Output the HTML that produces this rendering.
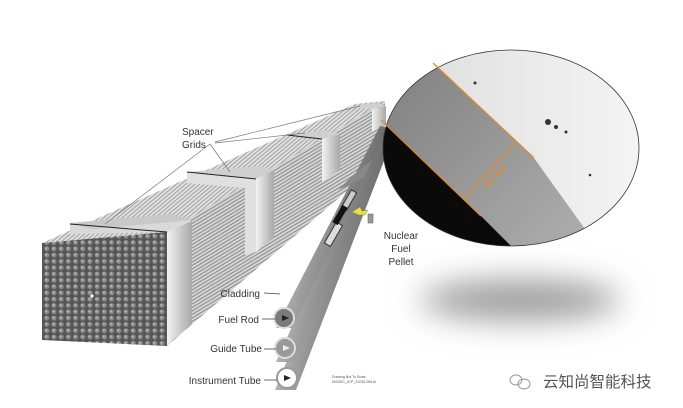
<!DOCTYPE html>
<html><head><meta charset="utf-8"><style>
html,body{margin:0;padding:0;background:#fff;}
svg{display:block;}
text{font-family:"Liberation Sans",Arial,sans-serif;}
</style></head><body>
<svg width="683" height="408" viewBox="0 0 683 408" xmlns="http://www.w3.org/2000/svg">
<defs>
<pattern id="dots" width="7.2" height="6.3" patternUnits="userSpaceOnUse">
<rect width="7.2" height="6.3" fill="#555"/>
<circle cx="3.6" cy="3.1" r="2.5" fill="#8a8a8a"/>
<circle cx="3" cy="2.6" r="1.1" fill="#b5b5b5"/>
</pattern>
<pattern id="stripes" width="6" height="3" patternUnits="userSpaceOnUse" patternTransform="rotate(-31)">
<rect width="6" height="3" fill="#d4d4d4"/>
<rect y="2" width="6" height="1" fill="#8a8a8a"/>
</pattern>
<pattern id="stripes2" width="6" height="3" patternUnits="userSpaceOnUse" patternTransform="rotate(-40)">
<rect width="6" height="3" fill="#e0e0e0"/>
<rect y="2" width="6" height="1" fill="#a0a0a0"/>
</pattern>
<linearGradient id="grid" x1="0" x2="1"><stop offset="0" stop-color="#f2f2f2"/><stop offset="1" stop-color="#a8a8a8"/></linearGradient>
<linearGradient id="tube" x1="0" y1="0" x2="1" y2="0.4"><stop offset="0" stop-color="#e8e8e8"/><stop offset="0.5" stop-color="#9a9a9a"/><stop offset="1" stop-color="#5a5a5a"/></linearGradient>
<filter id="blur" x="-50%" y="-200%" width="200%" height="500%"><feGaussianBlur stdDeviation="16"/></filter>
<clipPath id="circ"><ellipse cx="511" cy="148" rx="128" ry="98"/></clipPath>
<linearGradient id="light" x1="0" y1="0" x2="1" y2="0"><stop offset="0" stop-color="#dcdcdc"/><stop offset="1" stop-color="#f4f4f4"/></linearGradient>
<linearGradient id="band" x1="0" y1="0" x2="1" y2="1"><stop offset="0" stop-color="#7a7a7a"/><stop offset="1" stop-color="#b0b0b0"/></linearGradient>
</defs>

<polygon points="42,243 167,232 385,101 355,104" fill="url(#stripes2)"/>
<polygon points="167,232 385,101 385,158 167,346" fill="url(#stripes)"/>
<polygon points="42,243 167,232 167,346 42,340" fill="url(#dots)"/>
<circle cx="92" cy="296" r="1.6" fill="#fff"/>

<polygon points="70,223 168,216 192,221 190,232 167,232 70,234" fill="#d9d9d9"/>
<polygon points="70,223 170,214 192,220 92,229" fill="#c8c8c8"/>
<polygon points="167,232 192,221 192,324 167,345" fill="url(#grid)"/>
<line x1="70" y1="224" x2="167" y2="232" stroke="#222" stroke-width="1"/>
<polygon points="187,172 258,166 274,170 256,178" fill="#cfcfcf"/>
<polygon points="187,172 256,179 256,252 245,255 245,188 187,183" fill="#e0e0e0"/>
<polygon points="256,179 274,170 274,238 256,252" fill="url(#grid)"/>
<line x1="187" y1="172" x2="256" y2="179" stroke="#222"/>
<polygon points="287,135 326,130 340,134 322,139" fill="#cfcfcf"/>
<polygon points="322,139 340,134 340,170 322,182" fill="url(#grid)"/>
<line x1="287" y1="135" x2="322" y2="139" stroke="#222"/>
<polygon points="346,107 376,103 386,106 372,109" fill="#cfcfcf"/>
<polygon points="372,109 386,106 386,125 372,132" fill="url(#grid)"/>

<g stroke="#777" stroke-width="0.7" fill="none">
<line x1="210" y1="144" x2="230" y2="172"/>
<line x1="210" y1="144" x2="105" y2="224"/>
<line x1="215" y1="143" x2="305" y2="133"/>
<line x1="215" y1="142" x2="360" y2="106"/>
</g>
<text x="182" y="135" font-size="10" fill="#333">Spacer</text>
<text x="182" y="148" font-size="10" fill="#333">Grids</text>

<polygon points="275,390 296,390 392,140 380,135" fill="url(#tube)"/>
<polygon points="276,362 294,362 392,132 382,128" fill="url(#tube)"/>
<polygon points="276,328 292,328 388,128 380,126" fill="url(#tube)"/>
<polygon points="338,190 364,178 372,160 352,176" fill="#888"/>
<rect x="330" y="222" width="7" height="24" fill="#ddd" stroke="#333" transform="rotate(30 333 234)"/>
<rect x="346" y="190" width="6" height="20" fill="#ccc" stroke="#333" transform="rotate(30 349 200)"/>
<rect x="337" y="205" width="6" height="20" fill="#111" transform="rotate(30 340 215)"/>
<path d="M352 212 l8 -5 l2 4 l6 -1 l-3 5 l-6 0 z" fill="#e8e040" stroke="#886" stroke-width="0.5"/>
<rect x="368" y="214" width="5" height="9" fill="#999" stroke="#555" stroke-width="0.5"/>
<circle cx="284" cy="318" r="10" fill="#7a7a7a" stroke="#ddd" stroke-width="2"/>
<circle cx="285" cy="348" r="10" fill="#9a9a9a" stroke="#ddd" stroke-width="2"/>
<circle cx="287" cy="378" r="10" fill="#fff" stroke="#999" stroke-width="2"/>
<g fill="#222"><polygon points="282,315 289,318 282,321"/><polygon points="283,345 290,348 283,351" fill="#eee"/><polygon points="284,375 291,378 284,381"/></g>
<g stroke="#444" stroke-width="0.8">
<line x1="264" y1="293" x2="280" y2="294"/><line x1="262" y1="319" x2="275" y2="319"/>
<line x1="264" y1="349" x2="276" y2="349"/><line x1="264" y1="380" x2="277" y2="380"/>
</g>
<g font-size="10" fill="#333" text-anchor="end">
<text x="260" y="297">Cladding</text>
<text x="259" y="323">Fuel Rod</text>
<text x="262" y="352">Guide Tube</text>
<text x="261" y="384">Instrument Tube</text>
</g>
<g font-size="10" fill="#333" text-anchor="middle">
<text x="401" y="239">Nuclear</text><text x="401" y="252">Fuel</text><text x="401" y="265">Pellet</text>
</g>
<text x="332" y="378" font-size="3.5" fill="#555">Drawing Not To Scale</text>
<text x="332" y="383" font-size="3.5" fill="#555">0002DC_ATP_Z1030-084.ai</text>

<ellipse cx="520" cy="300" rx="100" ry="20" fill="#9a9a9a" filter="url(#blur)"/>

<g clip-path="url(#circ)">
<rect x="380" y="48" width="262" height="200" fill="url(#light)"/>
<polygon points="380,13 534,158 600,250 380,250" fill="url(#band)"/>
<polygon points="380,118 481,216 515,250 380,250" fill="#0a0a0a"/>
<g fill="#333"><circle cx="548" cy="122" r="3"/><circle cx="556" cy="127" r="2"/><circle cx="566" cy="132" r="1.5"/><circle cx="475" cy="83" r="1.5"/><circle cx="590" cy="175" r="1.3"/></g>
</g>
<ellipse cx="511" cy="148" rx="128" ry="98" fill="none" stroke="#333" stroke-width="0.8"/>
<g stroke="#e08a2a" stroke-width="1.3">
<line x1="433" y1="63" x2="534" y2="158"/>
<line x1="381" y1="120" x2="481" y2="216"/>
<line x1="465" y1="197" x2="515" y2="143"/>
</g>
<text x="0" y="0" font-size="8" font-weight="bold" fill="#e08a2a" transform="translate(488,188) rotate(-48)">15.7um</text>

<g fill="none" stroke="#999" stroke-width="1">
<ellipse cx="516" cy="380" rx="6" ry="5"/><ellipse cx="524" cy="384" rx="6" ry="5"/>
</g>
<text x="543" y="387" font-size="15.5" fill="#555" font-family="'Liberation Sans','Noto Sans CJK SC',sans-serif">云知尚智能科技</text>
</svg>
</body></html>
